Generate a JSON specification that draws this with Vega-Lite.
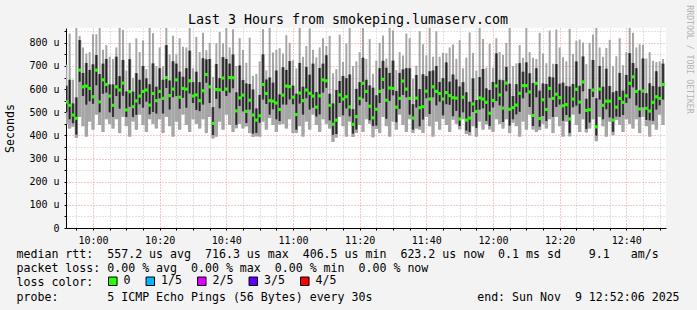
{
"$schema": "https://vega.github.io/schema/vega-lite/v6.json",
"width": 600, "height": 200,
"autosize": {"type": "none"},
"padding": {"left": 66, "top": 28, "right": 31, "bottom": 82},
"background": "#f3f3f3",
"view": {"fill": "#ffffff", "stroke": null},
"title": {"text": "Last 3 Hours from smokeping.lumaserv.com", "font": "DejaVu Sans Mono", "fontSize": 13.3, "fontWeight": "normal", "color": "#000000", "anchor": "middle", "frame": "group", "dx": -18, "dy": 38, "baseline": "bottom", "offset": 2},
"config": {
  "axis": {"labelFont": "DejaVu Sans Mono", "labelFontSize": 10, "labelColor": "#000000", "titleFont": "DejaVu Sans Mono", "titleFontWeight": "normal", "titleColor": "#000000", "domainColor": "#000000", "tickColor": "#000000", "tickSize": 2, "labelOverlap": false, "labelFlush": false, "gridDash": [1, 2], "gridOpacity": 1}
},
"data": {"values": [
{"t":592,"lo":450,"q1":500,"md":545,"q3":615,"hi":705},
{"t":593,"lo":430,"q1":470,"md":530,"q3":640,"hi":840},
{"t":594,"lo":438,"q1":453,"md":488,"q3":538,"hi":640},
{"t":595,"lo":389,"q1":404,"md":474,"q3":564,"hi":865},
{"t":596,"lo":480,"q1":632,"md":682,"q3":812,"hi":830},
{"t":597,"lo":440,"q1":570,"md":610,"q3":670,"hi":780},
{"t":598,"lo":395,"q1":533,"md":613,"q3":713,"hi":753},
{"t":599,"lo":460,"q1":548,"md":603,"q3":683,"hi":760},
{"t":600,"lo":425,"q1":537,"md":567,"q3":707,"hi":837},
{"t":601,"lo":490,"q1":617,"md":682,"q3":747,"hi":837},
{"t":602,"lo":445,"q1":500,"md":545,"q3":665,"hi":865},
{"t":603,"lo":415,"q1":580,"md":640,"q3":710,"hi":770},
{"t":604,"lo":470,"q1":585,"md":620,"q3":730,"hi":790},
{"t":605,"lo":450,"q1":500,"md":570,"q3":620,"hi":740},
{"t":606,"lo":430,"q1":480,"md":530,"q3":620,"hi":730},
{"t":607,"lo":470,"q1":570,"md":610,"q3":740,"hi":780},
{"t":608,"lo":410,"q1":516,"md":596,"q3":656,"hi":865},
{"t":609,"lo":480,"q1":571,"md":626,"q3":726,"hi":856},
{"t":610,"lo":440,"q1":480,"md":510,"q3":590,"hi":680},
{"t":611,"lo":395,"q1":524,"md":589,"q3":729,"hi":800},
{"t":612,"lo":460,"q1":479,"md":524,"q3":589,"hi":649},
{"t":613,"lo":425,"q1":489,"md":549,"q3":669,"hi":819},
{"t":614,"lo":490,"q1":535,"md":570,"q3":640,"hi":760},
{"t":615,"lo":445,"q1":520,"md":590,"q3":700,"hi":810},
{"t":616,"lo":415,"q1":546,"md":596,"q3":646,"hi":686},
{"t":617,"lo":470,"q1":491,"md":531,"q3":621,"hi":865},
{"t":618,"lo":450,"q1":501,"md":581,"q3":711,"hi":841},
{"t":619,"lo":430,"q1":495,"md":550,"q3":610,"hi":700},
{"t":620,"lo":470,"q1":560,"md":590,"q3":690,"hi":780},
{"t":621,"lo":410,"q1":495,"md":560,"q3":640,"hi":700},
{"t":622,"lo":480,"q1":605,"md":650,"q3":790,"hi":865},
{"t":623,"lo":440,"q1":512,"md":572,"q3":637,"hi":750},
{"t":624,"lo":395,"q1":565,"md":600,"q3":720,"hi":830},
{"t":625,"lo":460,"q1":570,"md":640,"q3":710,"hi":750},
{"t":626,"lo":425,"q1":515,"md":565,"q3":675,"hi":820},
{"t":627,"lo":490,"q1":563,"md":603,"q3":653,"hi":783},
{"t":628,"lo":445,"q1":520,"md":600,"q3":690,"hi":780},
{"t":629,"lo":415,"q1":581,"md":636,"q3":766,"hi":865},
{"t":630,"lo":470,"q1":540,"md":570,"q3":630,"hi":690},
{"t":631,"lo":450,"q1":510,"md":575,"q3":675,"hi":825},
{"t":632,"lo":430,"q1":505,"md":550,"q3":630,"hi":760},
{"t":633,"lo":470,"q1":533,"md":593,"q3":733,"hi":843},
{"t":634,"lo":410,"q1":628,"md":663,"q3":728,"hi":768},
{"t":635,"lo":480,"q1":540,"md":610,"q3":730,"hi":800},
{"t":636,"lo":387,"q1":402,"md":452,"q3":522,"hi":652},
{"t":637,"lo":395,"q1":558,"md":598,"q3":708,"hi":798},
{"t":638,"lo":460,"q1":517,"md":597,"q3":647,"hi":847},
{"t":639,"lo":425,"q1":593,"md":648,"q3":738,"hi":798},
{"t":640,"lo":490,"q1":570,"md":600,"q3":730,"hi":865},
{"t":641,"lo":445,"q1":585,"md":650,"q3":710,"hi":780},
{"t":642,"lo":415,"q1":604,"md":649,"q3":749,"hi":859},
{"t":643,"lo":431,"q1":446,"md":506,"q3":586,"hi":700},
{"t":644,"lo":450,"q1":527,"md":562,"q3":702,"hi":820},
{"t":645,"lo":430,"q1":504,"md":574,"q3":639,"hi":769},
{"t":646,"lo":439,"q1":454,"md":504,"q3":624,"hi":714},
{"t":647,"lo":410,"q1":512,"md":552,"q3":622,"hi":822},
{"t":648,"lo":393,"q1":408,"md":488,"q3":598,"hi":658},
{"t":649,"lo":396,"q1":411,"md":466,"q3":516,"hi":666},
{"t":650,"lo":395,"q1":455,"md":485,"q3":575,"hi":720},
{"t":651,"lo":460,"q1":555,"md":620,"q3":750,"hi":860},
{"t":652,"lo":425,"q1":536,"md":581,"q3":641,"hi":681},
{"t":653,"lo":475,"q1":490,"md":550,"q3":650,"hi":865},
{"t":654,"lo":445,"q1":513,"md":548,"q3":628,"hi":758},
{"t":655,"lo":415,"q1":470,"md":540,"q3":680,"hi":770},
{"t":656,"lo":447,"q1":462,"md":512,"q3":577,"hi":777},
{"t":657,"lo":450,"q1":534,"md":574,"q3":694,"hi":754},
{"t":658,"lo":430,"q1":533,"md":613,"q3":683,"hi":833},
{"t":659,"lo":470,"q1":556,"md":611,"q3":721,"hi":800},
{"t":660,"lo":410,"q1":535,"md":565,"q3":615,"hi":725},
{"t":661,"lo":410,"q1":425,"md":490,"q3":580,"hi":690},
{"t":662,"lo":440,"q1":538,"md":583,"q3":713,"hi":865},
{"t":663,"lo":395,"q1":490,"md":550,"q3":610,"hi":740},
{"t":664,"lo":460,"q1":561,"md":596,"q3":696,"hi":786},
{"t":665,"lo":425,"q1":512,"md":582,"q3":662,"hi":862},
{"t":666,"lo":490,"q1":520,"md":570,"q3":710,"hi":770},
{"t":667,"lo":445,"q1":482,"md":522,"q3":587,"hi":737},
{"t":668,"lo":415,"q1":491,"md":571,"q3":691,"hi":780},
{"t":669,"lo":470,"q1":585,"md":640,"q3":710,"hi":820},
{"t":670,"lo":450,"q1":606,"md":636,"q3":746,"hi":786},
{"t":671,"lo":430,"q1":465,"md":530,"q3":580,"hi":830},
{"t":672,"lo":372,"q1":403,"md":448,"q3":538,"hi":668},
{"t":673,"lo":391,"q1":406,"md":466,"q3":596,"hi":686},
{"t":674,"lo":480,"q1":540,"md":575,"q3":635,"hi":835},
{"t":675,"lo":440,"q1":487,"md":557,"q3":657,"hi":717},
{"t":676,"lo":395,"q1":517,"md":567,"q3":647,"hi":797},
{"t":677,"lo":460,"q1":483,"md":523,"q3":663,"hi":865},
{"t":678,"lo":393,"q1":408,"md":448,"q3":513,"hi":700},
{"t":679,"lo":411,"q1":426,"md":481,"q3":601,"hi":720},
{"t":680,"lo":445,"q1":530,"md":560,"q3":630,"hi":760},
{"t":681,"lo":415,"q1":560,"md":625,"q3":735,"hi":865},
{"t":682,"lo":470,"q1":545,"md":590,"q3":640,"hi":730},
{"t":683,"lo":450,"q1":466,"md":526,"q3":616,"hi":816},
{"t":684,"lo":392,"q1":441,"md":476,"q3":606,"hi":666},
{"t":685,"lo":428,"q1":443,"md":513,"q3":573,"hi":723},
{"t":686,"lo":410,"q1":540,"md":590,"q3":690,"hi":800},
{"t":687,"lo":480,"q1":602,"md":642,"q3":722,"hi":832},
{"t":688,"lo":440,"q1":472,"md":552,"q3":692,"hi":732},
{"t":689,"lo":395,"q1":550,"md":605,"q3":670,"hi":865},
{"t":690,"lo":460,"q1":573,"md":603,"q3":723,"hi":853},
{"t":691,"lo":425,"q1":457,"md":522,"q3":592,"hi":682},
{"t":692,"lo":490,"q1":515,"md":560,"q3":670,"hi":760},
{"t":693,"lo":445,"q1":575,"md":635,"q3":685,"hi":745},
{"t":694,"lo":415,"q1":565,"md":600,"q3":690,"hi":840},
{"t":695,"lo":470,"q1":490,"md":560,"q3":690,"hi":820},
{"t":696,"lo":410,"q1":425,"md":475,"q3":535,"hi":645},
{"t":697,"lo":430,"q1":521,"md":561,"q3":661,"hi":701},
{"t":698,"lo":425,"q1":440,"md":520,"q3":600,"hi":850},
{"t":699,"lo":410,"q1":469,"md":524,"q3":664,"hi":794},
{"t":700,"lo":480,"q1":561,"md":591,"q3":656,"hi":746},
{"t":701,"lo":440,"q1":492,"md":557,"q3":677,"hi":865},
{"t":702,"lo":395,"q1":565,"md":610,"q3":680,"hi":740},
{"t":703,"lo":460,"q1":530,"md":590,"q3":700,"hi":850},
{"t":704,"lo":425,"q1":546,"md":581,"q3":631,"hi":740},
{"t":705,"lo":472,"q1":487,"md":557,"q3":647,"hi":757},
{"t":706,"lo":445,"q1":535,"md":585,"q3":715,"hi":755},
{"t":707,"lo":415,"q1":532,"md":572,"q3":632,"hi":780},
{"t":708,"lo":468,"q1":483,"md":563,"q3":663,"hi":793},
{"t":709,"lo":450,"q1":506,"md":561,"q3":641,"hi":731},
{"t":710,"lo":426,"q1":441,"md":471,"q3":611,"hi":811},
{"t":711,"lo":470,"q1":500,"md":565,"q3":630,"hi":690},
{"t":712,"lo":406,"q1":421,"md":466,"q3":586,"hi":736},
{"t":713,"lo":400,"q1":415,"md":475,"q3":545,"hi":845},
{"t":714,"lo":440,"q1":501,"md":536,"q3":646,"hi":756},
{"t":715,"lo":395,"q1":433,"md":503,"q3":553,"hi":680},
{"t":716,"lo":460,"q1":512,"md":562,"q3":652,"hi":865},
{"t":717,"lo":425,"q1":517,"md":557,"q3":687,"hi":817},
{"t":718,"lo":448,"q1":463,"md":543,"q3":603,"hi":693},
{"t":719,"lo":426,"q1":441,"md":496,"q3":596,"hi":796},
{"t":720,"lo":415,"q1":521,"md":551,"q3":631,"hi":691},
{"t":721,"lo":470,"q1":549,"md":614,"q3":754,"hi":820},
{"t":722,"lo":450,"q1":530,"md":575,"q3":640,"hi":760},
{"t":723,"lo":430,"q1":458,"md":518,"q3":638,"hi":748},
{"t":724,"lo":470,"q1":591,"md":626,"q3":696,"hi":800},
{"t":725,"lo":410,"q1":443,"md":513,"q3":623,"hi":865},
{"t":726,"lo":455,"q1":470,"md":520,"q3":570,"hi":700},
{"t":727,"lo":440,"q1":491,"md":531,"q3":621,"hi":711},
{"t":728,"lo":395,"q1":502,"md":582,"q3":712,"hi":790},
{"t":729,"lo":460,"q1":560,"md":615,"q3":675,"hi":735},
{"t":730,"lo":425,"q1":585,"md":615,"q3":715,"hi":865},
{"t":731,"lo":490,"q1":523,"md":588,"q3":668,"hi":760},
{"t":732,"lo":426,"q1":441,"md":486,"q3":626,"hi":736},
{"t":733,"lo":415,"q1":565,"md":625,"q3":690,"hi":730},
{"t":734,"lo":423,"q1":438,"md":473,"q3":593,"hi":843},
{"t":735,"lo":450,"q1":484,"md":554,"q3":624,"hi":754},
{"t":736,"lo":430,"q1":462,"md":512,"q3":622,"hi":712},
{"t":737,"lo":470,"q1":563,"md":603,"q3":653,"hi":853},
{"t":738,"lo":410,"q1":480,"md":560,"q3":650,"hi":710},
{"t":739,"lo":480,"q1":523,"md":578,"q3":708,"hi":858},
{"t":740,"lo":440,"q1":533,"md":563,"q3":623,"hi":780},
{"t":741,"lo":395,"q1":463,"md":528,"q3":628,"hi":738},
{"t":742,"lo":460,"q1":488,"md":533,"q3":613,"hi":720},
{"t":743,"lo":396,"q1":411,"md":471,"q3":611,"hi":861},
{"t":744,"lo":490,"q1":522,"md":557,"q3":622,"hi":752},
{"t":745,"lo":445,"q1":529,"md":599,"q3":719,"hi":809},
{"t":746,"lo":415,"q1":494,"md":544,"q3":614,"hi":814},
{"t":747,"lo":470,"q1":591,"md":631,"q3":741,"hi":801},
{"t":748,"lo":413,"q1":428,"md":508,"q3":558,"hi":708},
{"t":749,"lo":430,"q1":456,"md":511,"q3":601,"hi":800},
{"t":750,"lo":470,"q1":566,"md":596,"q3":726,"hi":836},
{"t":751,"lo":375,"q1":400,"md":437,"q3":560,"hi":865},
{"t":752,"lo":480,"q1":555,"md":600,"q3":700,"hi":780},
{"t":753,"lo":440,"q1":470,"md":530,"q3":610,"hi":740},
{"t":754,"lo":395,"q1":513,"md":548,"q3":688,"hi":778},
{"t":755,"lo":460,"q1":478,"md":548,"q3":613,"hi":813},
{"t":756,"lo":401,"q1":416,"md":466,"q3":586,"hi":700},
{"t":757,"lo":467,"q1":482,"md":522,"q3":592,"hi":742},
{"t":758,"lo":445,"q1":480,"md":560,"q3":670,"hi":820},
{"t":759,"lo":415,"q1":488,"md":543,"q3":593,"hi":703},
{"t":760,"lo":470,"q1":541,"md":571,"q3":661,"hi":760},
{"t":761,"lo":450,"q1":560,"md":625,"q3":755,"hi":865},
{"t":762,"lo":430,"q1":608,"md":653,"q3":713,"hi":843},
{"t":763,"lo":470,"q1":530,"md":590,"q3":690,"hi":780},
{"t":764,"lo":410,"q1":479,"md":514,"q3":594,"hi":794},
{"t":765,"lo":480,"q1":522,"md":592,"q3":732,"hi":792},
{"t":766,"lo":440,"q1":467,"md":517,"q3":582,"hi":732},
{"t":767,"lo":395,"q1":465,"md":505,"q3":625,"hi":760},
{"t":768,"lo":448,"q1":463,"md":543,"q3":613,"hi":723},
{"t":769,"lo":425,"q1":512,"md":567,"q3":677,"hi":717},
{"t":770,"lo":490,"q1":530,"md":560,"q3":610,"hi":720},
{"t":771,"lo":445,"q1":555,"md":620,"q3":710,"hi":730}
]},
"encoding": {
  "x": {"field": "t", "type": "quantitative", "scale": {"domain": [591.9, 771.9], "nice": false, "zero": false},
    "axis": {
      "values": [595,600,605,610,615,620,625,630,635,640,645,650,655,660,665,670,675,680,685,690,695,700,705,710,715,720,725,730,735,740,745,750,755,760,765,770],
      "labelExpr": "datum.value % 20 == 0 ? floor(datum.value / 60) + ':' + (datum.value % 60 < 10 ? '0' : '') + (datum.value % 60) : ''",
      "grid": true,
      "gridColor": {"condition": {"test": "datum.value % 20 == 0", "value": "#ee9090"}, "value": "#c4c4c4"},
      "labelPadding": 5,
      "title": ["median rtt:\u00a0\u00a0557.2 us avg\u00a0\u00a0716.3 us max\u00a0\u00a0406.5 us min\u00a0\u00a0623.2 us now\u00a0\u00a00.1 ms sd\u00a0\u00a0\u00a0\u00a09.1\u00a0\u00a0\u00a0am/s", "packet loss: 0.00 % avg\u00a0\u00a00.00 % max\u00a0\u00a00.00 % min\u00a0\u00a00.00 % now", "loss color:", "probe:\u00a0\u00a0\u00a0\u00a0\u00a0\u00a0\u00a05 ICMP Echo Pings (56 Bytes) every 30s\u00a0\u00a0\u00a0\u00a0\u00a0\u00a0\u00a0\u00a0\u00a0\u00a0\u00a0\u00a0\u00a0\u00a0\u00a0end: Sun Nov\u00a0\u00a09 12:52:06 2025"],
      "titleFontSize": 11.6, "titleAnchor": "start", "titleAlign": "left", "titleX": -50, "titleY": 20, "titleBaseline": "top", "titleLineHeight": 14.4
    }
  }
},
"resolve": {"axis": {"y": "independent"}},
"layer": [
  {
    "mark": {"type": "rule", "color": "#a6a6a6", "strokeWidth": 2.0, "clip": true},
    "encoding": {
      "y": {"field": "lo", "type": "quantitative", "scale": {"domain": [0, 864], "nice": false, "zero": true},
        "axis": {
          "orient": "left",
          "values": [0,50,100,150,200,250,300,350,400,450,500,550,600,650,700,750,800,850],
          "labelExpr": "datum.value == 0 ? '0' : (datum.value % 100 == 0 ? datum.value + ' u' : '')",
          "grid": true,
          "gridColor": {"condition": {"test": "datum.value % 100 == 0", "value": "#ee9090"}, "value": "#c4c4c4"},
          "labelPadding": 5,
          "title": "Seconds", "titleFontSize": 11.6, "titleAngle": -90, "titleX": -56, "titleY": 100, "titleAlign": "center", "titleBaseline": "middle"
        }
      },
      "y2": {"field": "hi"}
    }
  },
  {
    "mark": {"type": "rule", "color": "#a6a6a6", "strokeWidth": 3.4, "clip": true},
    "encoding": {
      "y": {"field": "lo", "type": "quantitative", "axis": null},
      "y2": {"field": "q3"}
    }
  },
  {
    "mark": {"type": "rule", "color": "#555555", "strokeWidth": 2.4, "clip": true},
    "encoding": {
      "y": {"field": "q1", "type": "quantitative",
        "axis": {"orient": "right", "labels": false, "ticks": false, "domain": false, "grid": false,
          "title": "RRDTOOL / TOBI OETIKER", "titleFont": "DejaVu Sans Mono", "titleFontSize": 8.2, "titleColor": "#b4b4b4", "titleAngle": 90, "titleX": 22, "titleY": 31, "titleAlign": "center", "titleBaseline": "middle"}
      },
      "y2": {"field": "q3"}
    }
  },
  {
    "mark": {"type": "rule", "color": "#1c1c1c", "strokeWidth": 1.1, "clip": true},
    "encoding": {
      "y": {"field": "q1", "type": "quantitative", "axis": null},
      "y2": {"field": "q3"}
    }
  },
  {
    "mark": {"type": "point", "shape": "square", "size": 10, "filled": true, "opacity": 1, "strokeWidth": 0, "clip": true},
    "encoding": {
      "y": {"field": "md", "type": "quantitative", "axis": null},
      "color": {"datum": "0", "type": "nominal",
        "scale": {"domain": ["0", "1/5", "2/5", "3/5", "4/5"], "range": ["#26ff00", "#00b8ff", "#dd00ff", "#5e00ff", "#ff0000"]},
        "legend": {"orient": "none", "legendX": 41, "legendY": 247, "direction": "horizontal", "title": null, "symbolType": "square", "symbolSize": 72, "symbolStrokeColor": "#000000", "symbolStrokeWidth": 1, "symbolOpacity": 1, "labelFont": "DejaVu Sans Mono", "labelFontSize": 11.6, "labelColor": "#000000", "labelOffset": 5, "columnPadding": 12.5, "padding": 0}
      }
    }
  }
]
}
